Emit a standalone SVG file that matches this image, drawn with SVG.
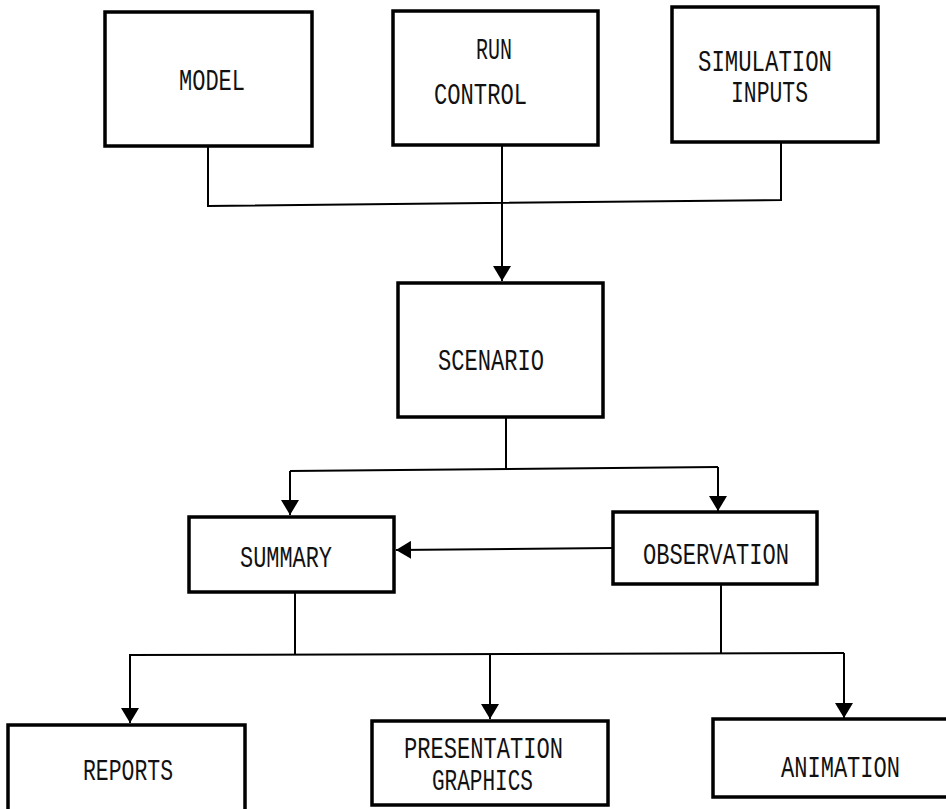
<svg xmlns="http://www.w3.org/2000/svg" width="946" height="809" viewBox="0 0 946 809">
<style>
.box{fill:#fff;stroke:#000;stroke-width:3.5}
.lbl{font-family:"Liberation Mono","DejaVu Sans Mono",monospace;font-size:30px;fill:#111}
.con{fill:none;stroke:#000;stroke-width:2}
</style>
<defs>
<marker id="ah" viewBox="0 0 15 18" markerWidth="15" markerHeight="18" refX="15" refY="9" orient="auto" markerUnits="userSpaceOnUse">
<path d="M0,0 L15,9 L0,18 z" fill="#000"/>
</marker>
</defs>
<rect width="946" height="809" fill="#fff"/>
<g id="connectors">
<polyline class="con" points="208,146 208,206 781,200 781,142"/>
<line class="con" x1="502" y1="145" x2="502" y2="281" marker-end="url(#ah)"/>
<line class="con" x1="506" y1="417" x2="506" y2="469"/>
<line class="con" x1="290" y1="471" x2="718" y2="467"/>
<line class="con" x1="290" y1="471" x2="290" y2="515" marker-end="url(#ah)"/>
<line class="con" x1="718" y1="467" x2="718" y2="511" marker-end="url(#ah)"/>
<line class="con" x1="613" y1="548" x2="396" y2="550" marker-end="url(#ah)"/>
<line class="con" x1="295" y1="592" x2="295" y2="655"/>
<line class="con" x1="721" y1="584" x2="721" y2="653"/>
<line class="con" x1="129" y1="655" x2="844" y2="653"/>
<line class="con" x1="130" y1="655" x2="130" y2="723" marker-end="url(#ah)"/>
<line class="con" x1="490" y1="654" x2="490" y2="719" marker-end="url(#ah)"/>
<line class="con" x1="844" y1="653" x2="844" y2="718" marker-end="url(#ah)"/>
</g>
<g id="model">
<rect class="box" x="105" y="12" width="207" height="134"/>
<text class="lbl" x="179" y="90" textLength="66" lengthAdjust="spacingAndGlyphs">MODEL</text>
</g>
<g id="run-control">
<rect class="box" x="393" y="11" width="205" height="134"/>
<text class="lbl" x="476" y="59" textLength="36" lengthAdjust="spacingAndGlyphs">RUN</text>
<text class="lbl" x="434" y="104" textLength="93" lengthAdjust="spacingAndGlyphs">CONTROL</text>
</g>
<g id="simulation-inputs">
<rect class="box" x="672" y="7" width="206" height="135"/>
<text class="lbl" x="698" y="71" textLength="134" lengthAdjust="spacingAndGlyphs">SIMULATION</text>
<text class="lbl" x="731" y="102" textLength="77" lengthAdjust="spacingAndGlyphs">INPUTS</text>
</g>
<g id="scenario">
<rect class="box" x="398" y="283" width="205" height="134"/>
<text class="lbl" x="438" y="370" textLength="106" lengthAdjust="spacingAndGlyphs">SCENARIO</text>
</g>
<g id="summary">
<rect class="box" x="189" y="517" width="205" height="75"/>
<text class="lbl" x="240" y="567" textLength="92" lengthAdjust="spacingAndGlyphs">SUMMARY</text>
</g>
<g id="observation">
<rect class="box" x="613" y="512" width="204" height="72"/>
<text class="lbl" x="643" y="564" textLength="146" lengthAdjust="spacingAndGlyphs">OBSERVATION</text>
</g>
<g id="reports">
<rect class="box" x="8" y="725" width="237" height="100"/>
<text class="lbl" x="83" y="780" textLength="90" lengthAdjust="spacingAndGlyphs">REPORTS</text>
</g>
<g id="presentation-graphics">
<rect class="box" x="372" y="721" width="236" height="84"/>
<text class="lbl" x="404" y="758" textLength="159" lengthAdjust="spacingAndGlyphs">PRESENTATION</text>
<text class="lbl" x="432" y="790" textLength="101" lengthAdjust="spacingAndGlyphs">GRAPHICS</text>
</g>
<g id="animation">
<rect class="box" x="713" y="719" width="260" height="78"/>
<text class="lbl" x="781" y="777" textLength="119" lengthAdjust="spacingAndGlyphs">ANIMATION</text>
</g>
</svg>
